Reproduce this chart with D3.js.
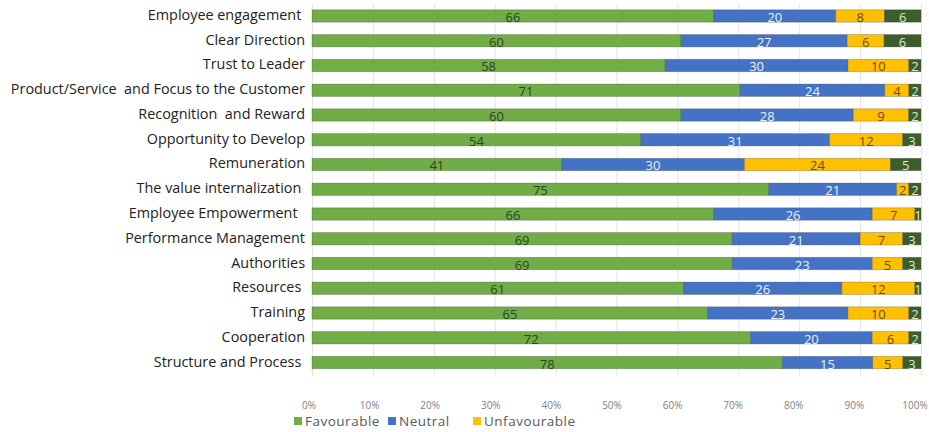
<!DOCTYPE html>
<html>
<head>
<meta charset="utf-8">
<script src="https://cdn.jsdelivr.net/npm/d3@7"></script>
<style>
  body { margin: 0; background: #fff; }
  svg { display: block; }
  text { font-family: "Open Sans", sans-serif; }
</style>
</head>
<body>
<div class="chart"></div>
<script>
/* Data */

const categories = [
    'Employee engagement ',
    'Clear Direction',
    'Trust to Leader',
    'Product/Service  and Focus to the Customer',
    'Recognition  and Reward',
    'Opportunity to Develop',
    'Remuneration',
    'The value internalization ',
    'Employee Empowerment  ',
    'Performance Management',
    'Authorities',
    'Resources ',
    'Training',
    'Cooperation',
    'Structure and Process '
];
const favourable   = [66, 60, 58, 71, 60, 54, 41, 75, 66, 69, 69, 61, 65, 72, 78];
const neutral      = [20, 27, 30, 24, 28, 31, 30, 21, 26, 21, 23, 26, 23, 20, 15];
const unfavourable = [ 8,  6, 10,  4,  9, 12, 24,  2,  7,  7,  5, 12, 10,  6,  5];
const noAnswer     = [ 6,  6,  2,  2,  2,  3,  5,  2,  1,  3,  3,  1,  2,  2,  3];
const ticks = [0, 10, 20, 30, 40, 50, 60, 70, 80, 90, 100];
const legendNames = ['Favourable', 'Neutral', 'Unfavourable'];

/* Setup */

const width = 929, height = 432;
const series = [
    { key: 'fav', values: favourable, fill: '#70ad47', label: '#2e4424' },
    { key: 'neu', values: neutral, fill: '#4472c4', label: '#eef2fb' },
    { key: 'unf', values: unfavourable, fill: '#ffc000', label: '#6b4a00' },
    { key: 'na', values: noAnswer, fill: '#3b5e2b', label: '#dfe8d6' }
];

const svg = d3.select('.chart').append('svg')
    .attr('width', width)
    .attr('height', height);

const x = d3.scaleLinear().domain([0, 100]).range([312, 921]);
const y = d3.scaleBand()
    .domain(categories)
    .range([3.6, 374.9])
    .paddingInner(0.5)
    .paddingOuter(0.25);

// gridlines
svg.append('g').selectAll('line')
    .data(ticks)
    .join('line')
    .attr('x1', d => x(d) + 0.5)
    .attr('x2', d => x(d) + 0.5)
    .attr('y1', 4)
    .attr('y2', 376)
    .attr('stroke', '#e3e3e3');

// stacked segments (normalised to 100% like the source chart)
const rows = categories.map((c, i) => {
    const total = series.reduce((s, ser) => s + ser.values[i], 0);
    let acc = 0;
    return series.map(ser => {
        const v = ser.values[i];
        const seg = { cat: c, v, x0: acc / total * 100, x1: (acc + v) / total * 100, ser };
        acc += v;
        return seg;
    });
});
const segs = rows.flat();

svg.append('g').selectAll('rect')
    .data(segs)
    .join('rect')
    .attr('x', d => x(d.x0))
    .attr('width', d => x(d.x1) - x(d.x0))
    .attr('y', d => y(d.cat))
    .attr('height', y.bandwidth())
    .attr('fill', d => d.ser.fill)
    .attr('stroke', 'rgba(60,60,60,0.35)')
    .attr('stroke-width', 0.8);

svg.append('g').selectAll('text')
    .data(segs)
    .join('text')
    .attr('x', d => (x(d.x0) + x(d.x1)) / 2)
    .attr('y', d => y(d.cat) + y.bandwidth() / 2 + 6)
    .attr('text-anchor', 'middle')
    .attr('font-size', 13)
    .attr('fill', d => d.ser.label)
    .text(d => d.v);

// category labels
svg.append('g').selectAll('text')
    .data(categories)
    .join('text')
    .attr('x', 305)
    .attr('y', d => y(d) + y.bandwidth() / 2 + 4)
    .attr('text-anchor', 'end')
    .attr('font-size', 14.4)
    .attr('fill', '#222')
    .style('white-space', 'pre')
    .text(d => d);

// x axis tick labels
svg.append('g').selectAll('text')
    .data(ticks)
    .join('text')
    .attr('x', d => x(d) - 3 - d * 0.03)
    .attr('y', 409)
    .attr('text-anchor', 'middle')
    .attr('font-size', 10)
    .attr('fill', '#7f7f7f')
    .text(d => d + '%');

// legend
const legendX = [294, 388, 473];
const legend = svg.append('g').selectAll('g')
    .data(legendNames)
    .join('g')
    .attr('transform', (d, i) => `translate(${legendX[i]},421)`);

legend.append('rect')
    .attr('x', 0)
    .attr('y', -4)
    .attr('width', 8)
    .attr('height', 8)
    .attr('fill', (d, i) => series[i].fill);

legend.append('text')
    .attr('x', 11)
    .attr('y', 5)
    .attr('font-size', 13.5)
    .attr('letter-spacing', 0.5)
    .attr('fill', '#595959')
    .text(d => d);
</script>
</body>
</html>
